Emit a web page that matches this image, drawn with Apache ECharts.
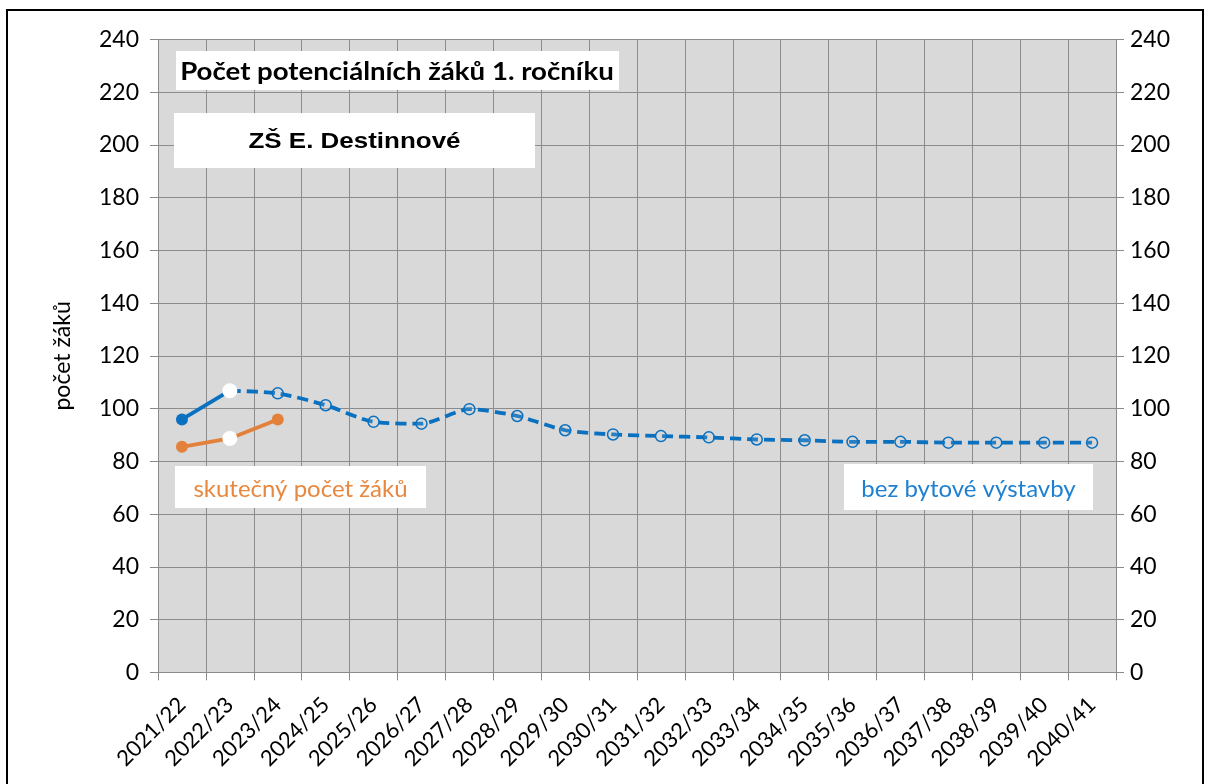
<!DOCTYPE html>
<html>
<head>
<meta charset="utf-8">
<script src="https://cdn.jsdelivr.net/npm/echarts@6/dist/echarts.min.js"></script>
<style>
html,body{margin:0;padding:0;background:#fff;}
#chart{width:1206px;height:784px;}
</style>
</head>
<body>
<div id="chart"></div>
<script>
const categories = ['2021/22','2022/23','2023/24','2024/25','2025/26','2026/27','2027/28','2028/29','2029/30','2030/31','2031/32','2032/33','2033/34','2034/35','2035/36','2036/37','2037/38','2038/39','2039/40','2040/41'];
const actualBlue = [95.9, 106.8];
const forecastBlue = [null, 106.8, 105.8, 101.3, 95.0, 94.3, 99.8, 97.2, 91.8, 90.2, 89.6, 89.1, 88.3, 88.0, 87.4, 87.4, 87.1, 87.1, 87.1, 87.1];
const actualOrange = [85.5, 88.7, 95.9];
const yTicks = [0, 20, 40, 60, 80, 100, 120, 140, 160, 180, 200, 220, 240];

const BLUE = '#0a70c0';
const ORANGE = '#e3813a';
const FONT = 'Lato';

const chart = echarts.init(document.getElementById('chart'), null, {renderer:'canvas'});

function yAxis(pos){
  return {
    type:'value', position:pos, min:yTicks[0], max:yTicks[yTicks.length-1], interval:20,
    axisLine:{show:true, lineStyle:{color:'#8a8a8a', width:1}},
    axisTick:{show:true, length:8, lineStyle:{color:'#8a8a8a'}},
    splitLine:{show:pos==='left', lineStyle:{color:'#8c8c8c', width:1}},
    axisLabel:{color:'#000', fontFamily:FONT, fontSize:23, margin:pos==='left'?19:14},
    name: pos==='left' ? 'počet žáků' : '',
    nameLocation:'middle', nameGap:84, nameRotate:90,
    nameTextStyle:{color:'#000', fontFamily:FONT, fontSize:23}
  };
}

const whiteMarker = {symbol:'circle', symbolSize:15, itemStyle:{color:'#fff', borderColor:'#fff', borderWidth:0}};

chart.setOption({
  animation:false,
  backgroundColor:'#fff',
  grid:{left:158, right:90, top:39.5, bottom:111.7, show:true, backgroundColor:'#d9d9d9', borderWidth:0},
  xAxis:{
    type:'category', data:categories, boundaryGap:true,
    axisLine:{show:true, lineStyle:{color:'#8a8a8a', width:1}},
    axisTick:{show:true, length:8, alignWithLabel:false, interval:0, lineStyle:{color:'#8a8a8a'}},
    splitLine:{show:true, interval:0, lineStyle:{color:'#8c8c8c', width:1}},
    axisLabel:{interval:0, rotate:45, color:'#000', fontFamily:FONT, fontSize:22, margin:29}
  },
  yAxis:[yAxis('left'), yAxis('right')],
  series:[
    {
      name:'bez bytové výstavby', type:'line', smooth:0.25, z:2,
      data: forecastBlue.map((v,i)=> i===1 ? {value:v, symbol:'none'} : v),
      lineStyle:{color:BLUE, width:3.8, type:[11,6]},
      symbol:'circle', symbolSize:11, showAllSymbol:true,
      itemStyle:{color:'rgba(217,217,217,0.15)', borderColor:BLUE, borderWidth:1.5}
    },
    {
      name:'skutečnost', type:'line', z:3,
      data:[{value:actualBlue[0]}, Object.assign({value:actualBlue[1]}, whiteMarker)],
      lineStyle:{color:BLUE, width:3.8},
      symbol:'circle', symbolSize:12, itemStyle:{color:BLUE}
    },
    {
      name:'skutečný počet žáků', type:'line', z:3,
      data:[{value:actualOrange[0]}, Object.assign({value:actualOrange[1]}, whiteMarker), {value:actualOrange[2]}],
      lineStyle:{color:ORANGE, width:3.8},
      symbol:'circle', symbolSize:12, itemStyle:{color:ORANGE}
    }
  ],
  graphic:[
    {type:'rect', shape:{x:7, y:10, width:1196, height:790}, style:{fill:'none', stroke:'#000', lineWidth:2}, z:0, silent:true},
    {type:'rect', shape:{x:176, y:51, width:443, height:39}, style:{fill:'#fff'}, z:10},
    {type:'text', x:397, y:72, scaleX:1.15, style:{text:'Počet potenciálních žáků 1. ročníku', fill:'#000', font:'bold 24px Lato', align:'center', verticalAlign:'middle'}, z:11},
    {type:'rect', shape:{x:174, y:113, width:361, height:55}, style:{fill:'#fff'}, z:10},
    {type:'text', x:354.5, y:142, scaleX:1.18, style:{text:'ZŠ E. Destinnové', fill:'#000', font:'bold 22px "Liberation Sans"', align:'center', verticalAlign:'middle'}, z:11},
    {type:'rect', shape:{x:175, y:466, width:251, height:42}, style:{fill:'#fff'}, z:10},
    {type:'text', x:300.5, y:489, style:{text:'skutečný počet žáků', fill:'#e8883f', font:'24px Lato', align:'center', verticalAlign:'middle'}, z:11},
    {type:'rect', shape:{x:844, y:464, width:249, height:46}, style:{fill:'#fff'}, z:10},
    {type:'text', x:968.5, y:489, style:{text:'bez bytové výstavby', fill:'#1f80d0', font:'24px Lato', align:'center', verticalAlign:'middle'}, z:11}
  ]
});
</script>
</body>
</html>
